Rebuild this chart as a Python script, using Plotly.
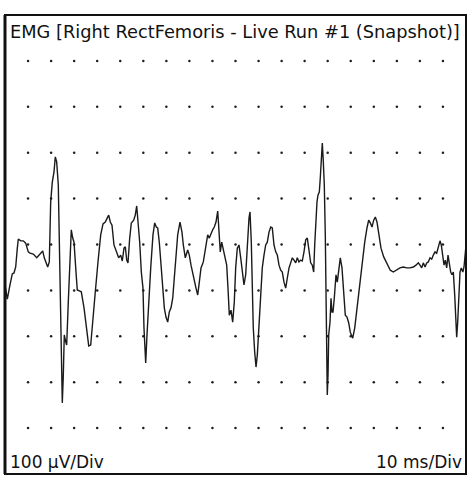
import plotly.graph_objects as go

# EMG trace (time in ms, amplitude in microvolts)
time_ms = [
    0, 0.50, 1.08, 1.58, 1.95, 2.32, 2.67, 2.89, 3.41, 3.97, 4.49, 5.05, 5.42, 6.14, 6.88, 7.44, 8.18, 8.52, 9.26, 9.61,
    9.91, 10.26, 10.63, 10.91, 11.21, 11.56, 11.78, 12.08, 12.30, 12.43, 12.65, 12.86, 13.17, 13.38, 13.73, 14.10, 14.38, 14.69, 14.97, 15.40,
    15.68, 16.12, 16.55, 17.14, 17.64, 18.16, 18.59, 19.09, 19.59, 20.17, 20.76, 21.26, 21.76, 22.19, 22.49, 22.84, 23.21, 23.64, 24.14, 24.66,
    25.10, 25.44, 25.81, 26.10, 26.40, 26.68, 27.05, 27.40, 27.92, 28.26, 28.57, 28.85, 29.22, 29.57, 29.93, 30.15, 30.30, 30.52, 30.80, 31.17,
    31.61, 32.10, 32.47, 32.82, 33.12, 33.47, 33.84, 34.21, 34.56, 34.92, 35.29, 35.64, 36.01, 36.38, 36.72, 37.09, 37.46, 37.96, 38.39, 38.68,
    39.11, 39.63, 39.98, 40.35, 40.72, 41.15, 41.43, 41.80, 42.15, 42.52, 43.02, 43.45, 43.97, 44.32, 44.69, 45.05, 45.40, 45.77, 46.14, 46.49,
    46.70, 47.01, 47.35, 47.72, 48.09, 48.37, 48.66, 49.02, 49.39, 49.74, 50.04, 50.39, 50.76, 51.13, 51.48, 51.84, 52.21, 52.56, 52.93, 53.15,
    53.43, 53.64, 53.86, 54.16, 54.45, 54.73, 55.10, 55.47, 55.81, 56.18, 56.55, 56.90, 57.27, 57.64, 57.98, 58.35, 58.72, 59.07, 59.44, 59.80,
    60.15, 60.52, 60.89, 61.24, 61.61, 61.97, 62.32, 62.69, 63.06, 63.41, 63.77, 64.14, 64.49, 64.86, 65.23, 65.58, 65.94, 66.31, 66.66, 66.96,
    67.18, 67.46, 67.68, 67.90, 68.18, 68.39, 68.61, 68.83, 69.05, 69.26, 69.48, 69.63, 69.78, 69.91, 70.07, 70.22, 70.50, 70.72, 70.93, 71.15,
    71.43, 71.80, 72.08, 72.39, 72.73, 73.10, 73.47, 73.82, 74.19, 74.56, 74.90, 75.42, 75.86, 76.36, 76.85, 77.44, 78.03, 78.52, 78.89, 79.24,
    79.61, 79.98, 80.33, 80.69, 81.06, 81.56, 82.15, 82.86, 83.58, 84.23, 84.97, 85.68, 86.40, 87.14, 87.85, 88.57, 89.15, 89.65, 90.02, 90.39,
    90.74, 91.11, 91.48, 91.82, 92.19, 92.56, 92.91, 93.28, 93.64, 93.99, 94.36, 94.64, 94.95, 95.23, 95.51, 95.81, 96.10, 96.38, 96.68, 96.96,
    97.25, 97.55, 97.77, 97.98, 98.20, 98.42, 98.70, 98.98, 99.31, 99.57, 99.85, 100.0,
]
emg_uV = [
    -88, -119, -88, -64, -62, -49, -8, 12, 8, 8, 3, -16, -19, -21, -29, -23, -14, -29, -49, -38,
    93, 136, 158, 191, 180, 130, -16, -182, -269, -345, -284, -197, -212, -219, -125, -23, 32, 14, 5, -60,
    -99, -101, -103, -138, -182, -221, -219, -169, -103, -38, 21, 45, 49, 58, 64, 49, 42, -1, -16, -29,
    -23, -36, -8, -5, -34, -40, 14, 47, 53, 64, 84, 49, 5, -60, -95, -182, -236, -258, -197, -125,
    -51, 21, 47, 38, 36, 5, -51, -88, -138, -158, -169, -147, -138, -117, -66, -16, 21, 49, 27, -1,
    -29, -12, -23, -45, -66, -82, -95, -110, -82, -51, -38, -8, 21, 14, 25, 32, 38, 49, 73, 27,
    -16, 5, -12, -29, -45, -95, -154, -143, -169, -125, -51, -8, -1, -29, -60, -88, -66, -1, 58, 71,
    5, -88, -182, -234, -267, -241, -182, -117, -51, -23, -1, 5, 27, 38, 36, -1, -16, -23, -45, -56,
    -60, -82, -95, -73, -51, -40, -29, -34, -40, -29, -38, -34, -36, -16, 10, 14, -8, -40, -45, -60,
    -1, 71, 93, 108, 114, 145, 195, 221, 180, 130, 21, -125, -234, -328, -284, -197, -169, -117, -147, -147,
    -117, -66, -82, -51, -29, -51, -95, -154, -158, -171, -191, -204, -182, -138, -95, -51, 5, 36, 53, 47,
    38, 53, 60, 49, 21, -8, -27, -40, -56, -60, -56, -51, -49, -51, -51, -49, -45, -40, -45, -51,
    -40, -49, -40, -38, -29, -32, -23, -16, -19, -8, 8, -1, -29, -45, -34, -51, -23, -45, -60, -66,
    -60, -110, -169, -202, -169, -110, -60, -51, -60, -49, -23, -1,
]

# Display scale: 10 divisions each way
x_range = [0, 100]          # 10 ms/Div
y_range = [-500, 500]       # 100 uV/Div
dot_x = [5 * k for k in range(1, 20)]        # dot columns every half division
dot_y = [100 * k for k in range(-4, 5)]      # dot rows every division

title_text = "EMG [Right RectFemoris - Live Run #1 (Snapshot)]"
y_scale_text = "100 µV/Div"
x_scale_text = "10 ms/Div"

gx = [x for y in dot_y for x in dot_x]
gy = [y for y in dot_y for x in dot_x]

fig = go.Figure()
fig.add_trace(go.Scatter(x=gx, y=gy, mode="markers",
                         marker=dict(size=2.5, color="#1e1e1e"),
                         hoverinfo="skip", showlegend=False))
fig.add_trace(go.Scatter(x=time_ms, y=emg_uV, mode="lines",
                         line=dict(color="#1a1a1a", width=1.4),
                         showlegend=False))

fig.add_shape(type="rect", xref="paper", yref="paper", x0=0, y0=0, x1=1, y1=1,
              line=dict(color="#111111", width=2))
fig.add_shape(type="line", xref="paper", yref="paper", x0=0, y0=0, x1=0, y1=1,
              line=dict(color="#111111", width=3))

font = "DejaVu Sans, Verdana, sans-serif"
fig.add_annotation(text=title_text, xref="paper", yref="paper", x=0, y=1,
                   xanchor="left", yanchor="middle", xshift=3, yshift=-16,
                   showarrow=False, font=dict(family=font, size=17.8, color="#111111"))
fig.add_annotation(text=y_scale_text, xref="paper", yref="paper", x=0, y=0,
                   xanchor="left", yanchor="middle", xshift=3, yshift=12,
                   showarrow=False, font=dict(family=font, size=17, color="#111111"))
fig.add_annotation(text=x_scale_text, xref="paper", yref="paper", x=1, y=0,
                   xanchor="right", yanchor="middle", xshift=-2, yshift=12,
                   showarrow=False, font=dict(family=font, size=17, color="#111111"))

fig.update_xaxes(range=x_range, showgrid=False, zeroline=False, showticklabels=False,
                 ticks="", showline=False, fixedrange=True)
fig.update_yaxes(range=y_range, showgrid=False, zeroline=False, showticklabels=False,
                 ticks="", showline=False, fixedrange=True)
fig.update_layout(width=467, height=477,
                  margin=dict(l=5, r=1, t=15, b=3),
                  paper_bgcolor="white", plot_bgcolor="white")

fig.write_html("out.html", config={"displayModeBar": False},
               post_script="document.body.style.margin='0';document.body.style.overflow='hidden';")
